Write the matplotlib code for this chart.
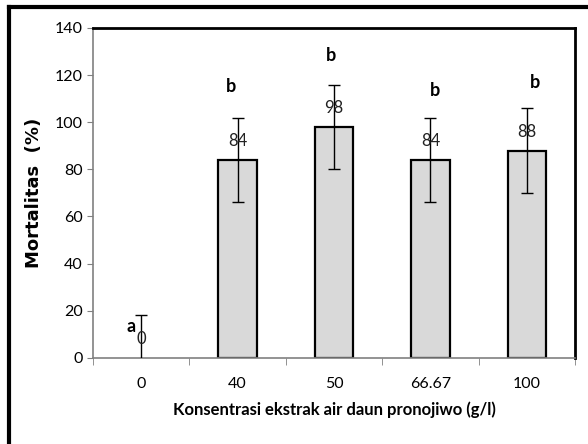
import matplotlib.pyplot as plt
from matplotlib.lines import Line2D
import numpy as np

categories = ['0', '40', '50', '66.67', '100']
mortality = [0, 84, 98, 84, 88]
errors = [18, 18, 18, 18, 18]
letters = ['a', 'b', 'b', 'b', 'b']
letter_y = [13.5, 115, 128.5, 113.5, 117]
letter_dx = [-0.1, -0.07, -0.03, 0.05, 0.08]

plt.rcParams['font.family'] = ['Lato', 'DejaVu Sans']

fig = plt.figure(figsize=(5.88, 4.44), dpi=100)
ax = fig.add_axes([0.158, 0.194, 0.820, 0.743])

x = np.arange(len(categories))
edges = ['black' if v > 0 else 'none' for v in mortality]
ax.bar(x, mortality, width=0.4, color='#d9d9d9', edgecolor=edges, linewidth=1.6, zorder=2)
ax.errorbar(x, mortality, yerr=errors, fmt='none', ecolor='black', elinewidth=1,
            capsize=4, capthick=1, zorder=3)

for i, v in enumerate(mortality):
    ax.text(x[i], v + 8, f'{v}', ha='center', va='center', fontsize=12, color='#222222', zorder=4)
    ax.text(x[i] + letter_dx[i], letter_y[i], letters[i], ha='center', va='center',
            fontsize=13, fontweight='bold', zorder=4)

ax.set_xlim(-0.5, len(categories) - 0.5)
ax.set_ylim(0, 140)
ax.set_yticks(range(0, 141, 20))
ax.set_xticks(x)
ax.set_xticklabels(categories, fontsize=11.5)
ax.tick_params(axis='x', length=0, pad=14)
ax.set_xticks(np.arange(-0.5, len(categories), 1), minor=True)
ax.tick_params(axis='x', which='minor', length=5, color='#808080', direction='out')
ax.tick_params(axis='y', length=4, color='#808080', labelsize=11.5)

for side in ['left', 'bottom']:
    ax.spines[side].set_color('#808080')
    ax.spines[side].set_linewidth(1.2)
for side in ['top', 'right']:
    ax.spines[side].set_color('black')
    ax.spines[side].set_linewidth(2)

ax.set_xlabel('Konsentrasi ekstrak air daun pronojiwo (g/l)', fontsize=12,
              fontweight='bold', labelpad=7)
ax.set_ylabel('Mortalitas  (%)', fontsize=13, fontweight='bold',
              family=['DejaVu Sans'], labelpad=8)

# outer frame (top and left edges only visible)
fig.add_artist(Line2D([0.016, 1.0], [0.984, 0.984], color='black', lw=3, transform=fig.transFigure))
fig.add_artist(Line2D([0.016, 0.016], [0.0, 0.984], color='black', lw=3, transform=fig.transFigure))

fig.savefig('out.png', dpi=100)
